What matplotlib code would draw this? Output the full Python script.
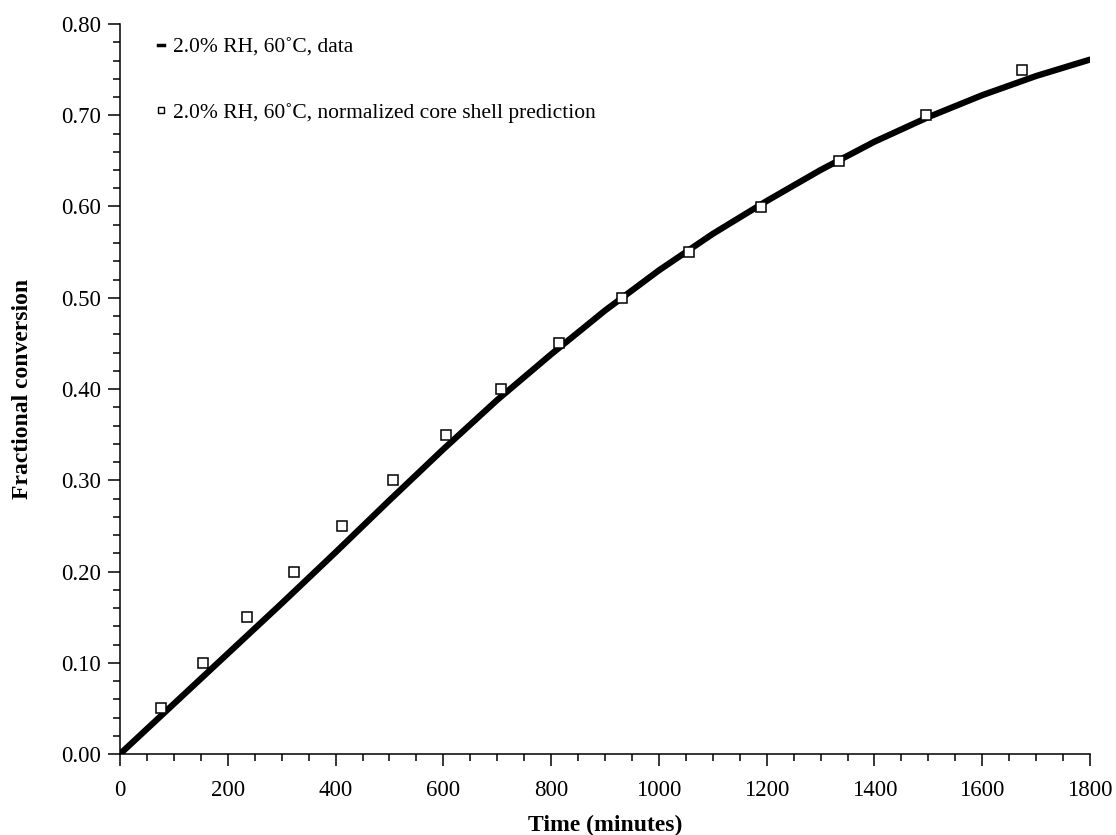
import matplotlib
matplotlib.use("Agg")
import matplotlib.pyplot as plt
from matplotlib.lines import Line2D
from matplotlib.ticker import MultipleLocator, FormatStrFormatter

# measured data curve
data_time = [0, 100, 200, 300, 400, 500, 600, 700, 800, 900, 1000,
             1100, 1200, 1300, 1400, 1500, 1600, 1700, 1800]
data_conv = [0.0, 0.055, 0.11, 0.165, 0.221, 0.278, 0.334, 0.388, 0.438, 0.486,
             0.530, 0.570, 0.606, 0.640, 0.671, 0.698, 0.722, 0.743, 0.761]

# normalized core shell prediction
pred_time = [75.5, 154.6, 235.7, 322.3, 412, 506, 605.5, 706.4, 815.2,
             931.5, 1056.4, 1188.9, 1334, 1496, 1673.8]
pred_conv = [0.05, 0.10, 0.15, 0.20, 0.25, 0.30, 0.35, 0.40, 0.45,
             0.50, 0.55, 0.60, 0.65, 0.70, 0.75]

label_data = "2.0% RH, 60˚C, data"
label_pred = "2.0% RH, 60˚C, normalized core shell prediction"

plt.rcParams['font.family'] = ['Liberation Serif', 'DejaVu Serif']

fig = plt.figure(figsize=(11.16, 8.35), dpi=100)
ax = fig.add_axes([120/1116, 1-754/835, (1090-120)/1116, (754-24)/835])

ax.plot(data_time, data_conv, color='black', lw=4.5, solid_capstyle='round',
        solid_joinstyle='round', zorder=2)
ax.plot(pred_time, pred_conv, linestyle='none', marker='s', markersize=6.5,
        markerfacecolor='white', markeredgecolor='black', markeredgewidth=1.1,
        zorder=3)

ax.set_xlim(0, 1800)
ax.set_ylim(0, 0.80)
ax.xaxis.set_major_locator(MultipleLocator(200))
ax.xaxis.set_minor_locator(MultipleLocator(50))
ax.yaxis.set_major_locator(MultipleLocator(0.10))
ax.yaxis.set_minor_locator(MultipleLocator(0.02))
ax.yaxis.set_major_formatter(FormatStrFormatter('%.2f'))

for s in ['top', 'right']:
    ax.spines[s].set_visible(False)
for s in ['left', 'bottom']:
    ax.spines[s].set_linewidth(1.1)

ax.tick_params(which='major', direction='out', length=8.5, width=1.1,
               labelsize=16.5)
ax.tick_params(which='minor', direction='out', length=5, width=1.1)
ax.tick_params(axis='y', which='major', pad=5)
ax.tick_params(axis='x', which='major', pad=10)

ax.set_xlabel('Time (minutes)', fontsize=17, fontweight='bold', labelpad=10)
ax.set_ylabel('Fractional conversion', fontsize=17, fontweight='bold',
              labelpad=20)

h_data = Line2D([], [], color='black', lw=2.5)
h_pred = Line2D([], [], linestyle='none', marker='s', markersize=5,
                markerfacecolor='white', markeredgecolor='black',
                markeredgewidth=1.0)
leg = ax.legend([h_data, h_pred], [label_data, label_pred], loc='upper left',
                bbox_to_anchor=(0.024, 1.002), frameon=False, fontsize=15.5,
                handlelength=0.25, handletextpad=0.45, labelspacing=2.1,
                borderaxespad=0.3)

fig.savefig('out.png', dpi=100)
